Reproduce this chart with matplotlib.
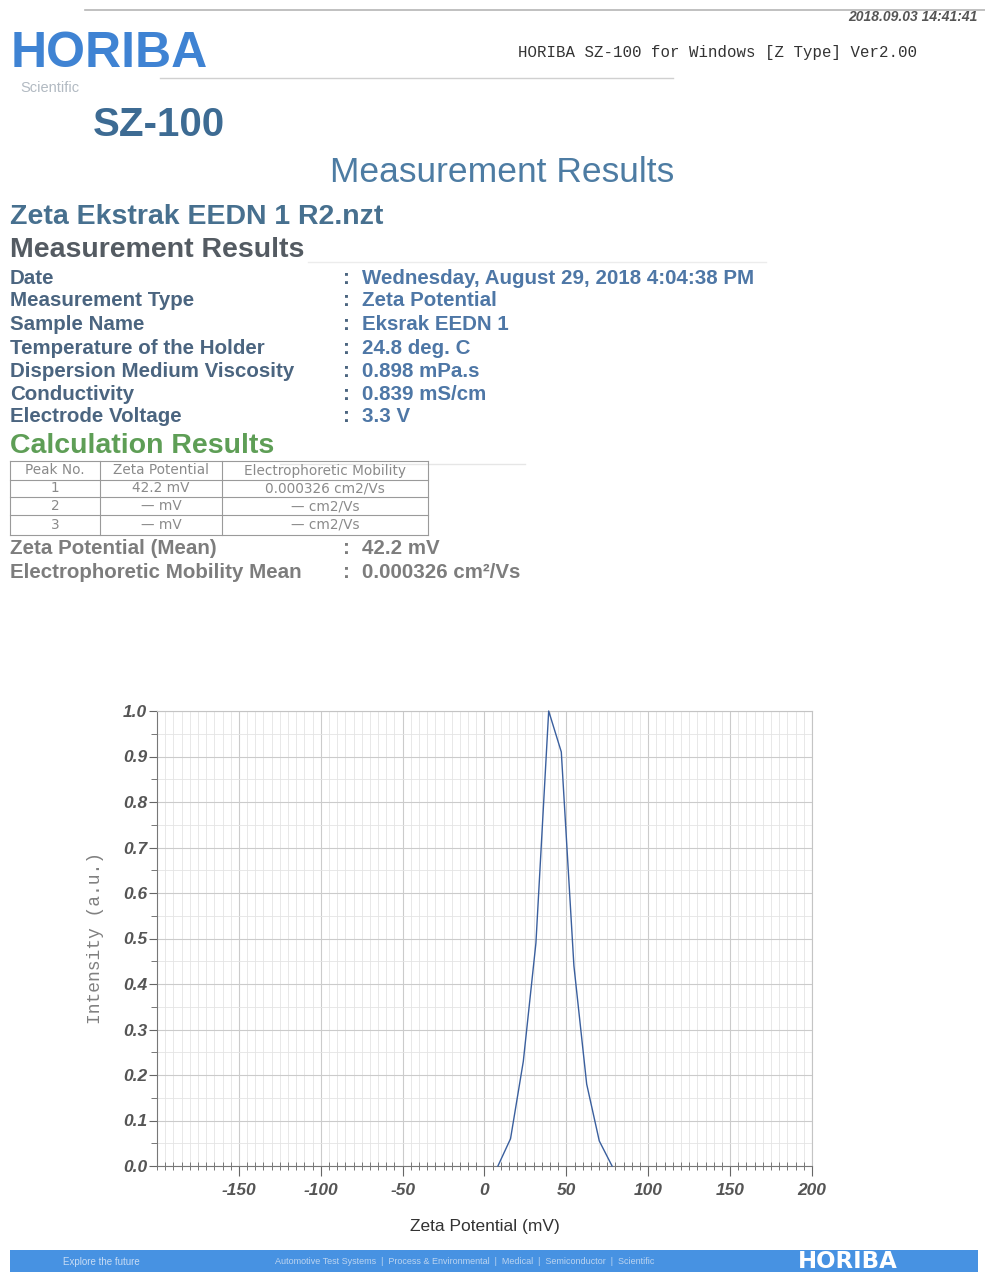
import matplotlib.pyplot as plt
from matplotlib.lines import Line2D
from matplotlib.patches import Rectangle
from matplotlib.ticker import MultipleLocator

plt.rcParams['font.family'] = ['Liberation Sans', 'DejaVu Sans']

# page size in pixels
W, H = 985, 1272

# zeta potential distribution
zeta_mv = [8.2, 15.9, 23.7, 31.4, 39.2, 46.9, 54.6, 62.4, 70.1, 77.9]
intensity = [0.0, 0.06, 0.23, 0.49, 1.0, 0.91, 0.44, 0.18, 0.055, 0.0]

x_ticks = [-150, -100, -50, 0, 50, 100, 150, 200]
y_ticks = [0.0, 0.1, 0.2, 0.3, 0.4, 0.5, 0.6, 0.7, 0.8, 0.9, 1.0]

info_labels = ['Date', 'Measurement Type', 'Sample Name', 'Temperature of the Holder',
               'Dispersion Medium Viscosity', 'Conductivity', 'Electrode Voltage']
info_values = ['Wednesday, August 29, 2018 4:04:38 PM', 'Zeta Potential', 'Eksrak EEDN 1',
               '24.8 deg. C', '0.898 mPa.s', '0.839 mS/cm', '3.3 V']

peak_header = ['Peak No.', 'Zeta Potential', 'Electrophoretic Mobility']
peak_rows = [['1', '42.2 mV', '0.000326 cm2/Vs'],
             ['2', '\u2014 mV', '\u2014 cm2/Vs'],
             ['3', '\u2014 mV', '\u2014 cm2/Vs']]

mean_labels = ['Zeta Potential (Mean)', 'Electrophoretic Mobility Mean']
mean_values = ['42.2 mV', '0.000326 cm\u00b2/Vs']

fig = plt.figure(figsize=(W / 100, H / 100), dpi=100)
fig.patch.set_facecolor('white')


def fx(x):
    return x / W


def fy(y):
    return 1 - y / H


def put(x, y, s, **kw):
    kw.setdefault('va', 'center')
    fig.text(fx(x), fy(y), s, **kw)


def line(x0, x1, y0, y1, **kw):
    fig.add_artist(Line2D([fx(x0), fx(x1)], [fy(y0), fy(y1)],
                          transform=fig.transFigure, **kw))


# header
line(85, 985, 10, 10, color='#b5b5b5', lw=1.2)
put(978, 17, '2018.09.03 14:41:41', ha='right', fontsize=10, style='italic',
    weight='bold', color='#555555')
put(11, 54, 'HORIBA', fontsize=36, weight='bold', color='#3f83d3')
put(20, 88, 'Scientific', fontsize=10.5, color='#b2bac2')
line(160, 673, 78, 78, color='#d0d0d0', lw=1)
put(518, 53, 'HORIBA SZ-100 for Windows [Z Type] Ver2.00', fontsize=11.3,
    family='Liberation Mono', color='#333333')
put(93, 125, 'SZ-100', fontsize=29, weight='bold', color='#3d6b93')
put(502, 172, 'Measurement Results', ha='center', fontsize=25.5, color='#4d7ca3')

put(10, 217, 'Zeta Ekstrak EEDN 1 R2.nzt', fontsize=20.5, weight='bold', color='#47708f')
put(10, 250, 'Measurement Results', fontsize=20.5, weight='bold', color='#545b62')
line(308, 766, 262, 262, color='#ececec', lw=1)

row_y = [278, 301, 325, 348, 371, 394, 417]
for y, lab, val in zip(row_y, info_labels, info_values):
    put(10, y, lab, fontsize=14.8, weight='bold', color='#4b6580')
    put(343, y, ':', fontsize=14.8, weight='bold', color='#4b6580')
    put(362, y, val, fontsize=14.8, weight='bold', color='#4e77a6')

put(10, 446, 'Calculation Results', fontsize=20.5, weight='bold', color='#5e9e56')
line(280, 525, 464, 464, color='#e6e6e6', lw=1)

# peak table
col_x = [10, 100, 222, 428]
tab_y = [461, 480, 497, 515, 535]
for y in tab_y:
    line(col_x[0], col_x[-1], y, y, color='#9a9a9a', lw=0.8)
for x in col_x:
    line(x, x, tab_y[0], tab_y[-1], color='#9a9a9a', lw=0.8)
for r, cells in enumerate([peak_header] + peak_rows):
    yc = (tab_y[r] + tab_y[r + 1]) / 2
    for c, s in enumerate(cells):
        xc = (col_x[c] + col_x[c + 1]) / 2
        put(xc, yc, s, ha='center', fontsize=9.8, family='DejaVu Sans', color='#8a8a8a')

for y, lab, val in zip([548, 572], mean_labels, mean_values):
    put(10, y, lab, fontsize=14.8, weight='bold', color='#7d7d7d')
    put(343, y, ':', fontsize=14.8, weight='bold', color='#7d7d7d')
    put(362, y, val, fontsize=14.8, weight='bold', color='#7d7d7d')

# distribution plot
ax = fig.add_axes([fx(157), fy(1166), (812 - 157) / W, (1166 - 711) / H])
ax.plot(zeta_mv, intensity, color='#3a5f9e', lw=1.0, clip_on=False, zorder=3)
ax.set_xlim(-200, 200)
ax.set_ylim(0, 1.0)
ax.set_xticks(x_ticks, labels=[str(v) for v in x_ticks], fontstyle='italic',
              fontweight='bold', fontsize=12.5, color='#555555')
ax.set_yticks(y_ticks, labels=['%.1f' % v for v in y_ticks], fontstyle='italic',
              fontweight='bold', fontsize=12.5, color='#555555')
ax.xaxis.set_minor_locator(MultipleLocator(5))
ax.yaxis.set_minor_locator(MultipleLocator(0.05))
ax.tick_params(axis='x', which='major', direction='out', length=7, width=0.8,
               color='#666666', pad=5)
ax.tick_params(axis='x', which='minor', direction='inout', length=6, width=0.7,
               color='#777777')
ax.tick_params(axis='y', which='major', direction='out', length=6, width=0.8,
               color='#666666', pad=1)
ax.tick_params(axis='y', which='minor', direction='out', length=4, width=0.7,
               color='#777777')
ax.grid(which='major', color='#cbcbcb', lw=0.8)
ax.grid(which='minor', color='#e4e4e4', lw=0.6)
for side in ['left', 'bottom']:
    ax.spines[side].set_color('#777777')
    ax.spines[side].set_linewidth(0.8)
for side in ['top', 'right']:
    ax.spines[side].set_color('#c4c4c4')
    ax.spines[side].set_linewidth(0.8)

ax.set_ylabel('Intensity (a.u.)', family='Liberation Mono', fontsize=13, color='#808080')
ax.yaxis.set_label_coords((104 - 157) / 655, 0.5)
ax.set_xlabel('Zeta Potential (mV)', fontsize=12.5, color='#333333')
ax.xaxis.set_label_coords(0.5, -(1227 - 1166) / 455)
ax.xaxis.label.set_va('center')

# footer bar
fig.add_artist(Rectangle((fx(10), fy(1272)), fx(968), 22 / H, transform=fig.transFigure,
                         facecolor='#4792e2', edgecolor='none'))
put(63, 1262, 'Explore the future', fontsize=7, color='#c8dcf4')
put(275, 1262, 'Automotive Test Systems  |  Process & Environmental  |  Medical  |  '
    'Semiconductor  |  Scientific', fontsize=6.5, color='#bcd4f0')
put(798, 1262, 'HORIBA', fontsize=16.5, weight='bold', family='DejaVu Sans', color='white')

fig.savefig('out.png', dpi=100)
